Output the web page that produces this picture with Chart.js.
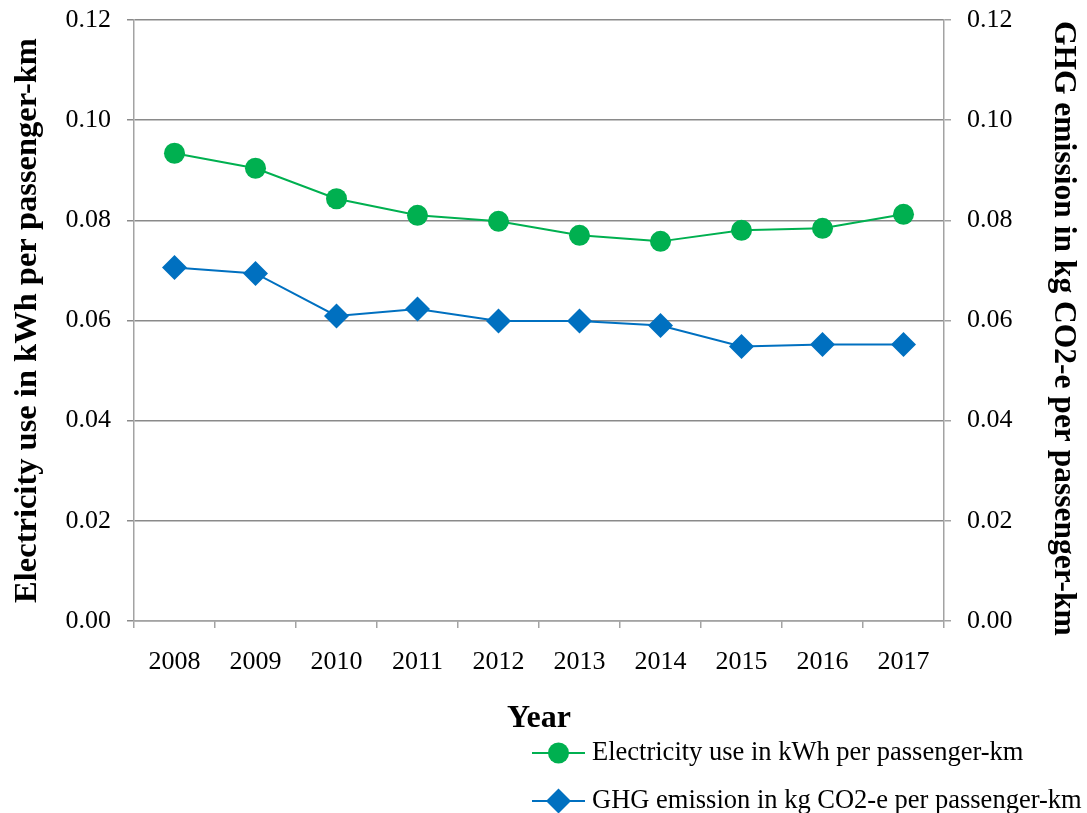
<!DOCTYPE html>
<html>
<head>
<meta charset="utf-8">
<script src="https://cdn.jsdelivr.net/npm/chart.js@4/dist/chart.umd.min.js"></script>
<style>
  html, body { margin: 0; padding: 0; background: #ffffff; }
  #wrap { width: 1087px; height: 813px; position: relative; }
</style>
</head>
<body>
<div id="wrap"><canvas id="c" width="1087" height="813"></canvas></div>
<script>
// Years on the category axis
const years = ['2008', '2009', '2010', '2011', '2012', '2013', '2014', '2015', '2016', '2017'];

// Electricity use in kWh per passenger-km (left axis)
const electricity = [0.0934, 0.0904, 0.0843, 0.0810, 0.0798, 0.0770, 0.0758, 0.0780, 0.0784, 0.0812];

// GHG emission in kg CO2-e per passenger-km (right axis)
const ghg = [0.0706, 0.0694, 0.0609, 0.0623, 0.0599, 0.0599, 0.0590, 0.0548, 0.0552, 0.0552];

// Value axis range shared by both sides
const axisMin = 0;
const axisMax = 0.12;
const axisStep = 0.02;

const labelElec = 'Electricity use in kWh per passenger-km';
const labelGhg = 'GHG emission in kg CO2-e per passenger-km';
const titleLeft = 'Electricity use in kWh per passenger-km';
const titleRight = '  GHG emission in kg CO2-e per passenger-km';
const titleX = 'Year';

const SERIF = '"Liberation Serif", "Times New Roman", serif';
const GREEN = '#00B050';
const BLUE = '#0070C0';
const GRID = '#8a8a8a';
const AXIS = '#a3a3a3';

// Legend stacked in a column under the plot, right side
const stackedLegend = {
  id: 'stackedLegend',
  afterDraw(chart) {
    const ctx = chart.ctx;
    const area = chart.chartArea;
    const lineStart = area.left + 398;
    const lineEnd = lineStart + 53;
    const textX = lineEnd + 7;
    const rows = [area.bottom + 132, area.bottom + 180];
    ctx.save();
    chart.data.datasets.forEach((ds, i) => {
      const y = rows[i];
      ctx.strokeStyle = ds.borderColor;
      ctx.lineWidth = ds.borderWidth;
      ctx.beginPath();
      ctx.moveTo(lineStart, y);
      ctx.lineTo(lineEnd, y);
      ctx.stroke();
      ctx.fillStyle = ds.pointBackgroundColor;
      ctx.strokeStyle = ds.pointBorderColor;
      Chart.helpers.drawPoint(ctx, {
        pointStyle: ds.pointStyle,
        radius: ds.pointRadius,
        borderWidth: ds.pointBorderWidth,
        rotation: 0
      }, (lineStart + lineEnd) / 2, y);
      ctx.fillStyle = '#000000';
      ctx.font = '26.5px ' + SERIF;
      ctx.textAlign = 'left';
      ctx.textBaseline = 'middle';
      ctx.fillText(ds.label, textX, y);
    });
    ctx.restore();
  }
};

const tickFmt = v => Number(v).toFixed(2);

// Keep the value axes from reserving extra room above/below the plot
function fitValueAxis(width) {
  return function (scale) {
    scale.width = width;
    scale.paddingTop = 0;
    scale.paddingBottom = 0;
  };
}

new Chart(document.getElementById('c'), {
  type: 'line',
  data: {
    labels: years,
    datasets: [
      {
        label: labelElec,
        data: electricity,
        yAxisID: 'y',
        borderColor: GREEN,
        backgroundColor: GREEN,
        borderWidth: 2,
        pointStyle: 'circle',
        pointRadius: 10.5,
        pointBackgroundColor: GREEN,
        pointBorderColor: GREEN,
        pointBorderWidth: 0,
        tension: 0
      },
      {
        label: labelGhg,
        data: ghg,
        yAxisID: 'y1',
        borderColor: BLUE,
        backgroundColor: BLUE,
        borderWidth: 2,
        pointStyle: 'rectRot',
        pointRadius: 12.5,
        pointBackgroundColor: BLUE,
        pointBorderColor: BLUE,
        pointBorderWidth: 0,
        tension: 0
      }
    ]
  },
  options: {
    responsive: false,
    animation: false,
    devicePixelRatio: 1,
    layout: { padding: { top: 20, left: 0, right: 0, bottom: 0 } },
    plugins: {
      legend: { display: false },
      tooltip: { enabled: false }
    },
    scales: {
      x: {
        type: 'category',
        offset: true,
        grid: {
          offset: true,
          drawOnChartArea: false,
          drawTicks: true,
          tickLength: 7,
          color: AXIS,
          lineWidth: 1.5
        },
        border: { display: true, color: AXIS, width: 1.5 },
        ticks: {
          color: '#000000',
          font: { family: SERIF, size: 26 },
          padding: 19,
          maxRotation: 0
        },
        title: {
          display: true,
          text: titleX,
          color: '#000000',
          font: { family: SERIF, size: 32, weight: 'bold' },
          padding: { top: 4, bottom: 75 }
        },
        afterFit(scale) { scale.height = 192; }
      },
      y: {
        position: 'left',
        min: axisMin,
        max: axisMax,
        grid: {
          drawOnChartArea: true,
          drawTicks: true,
          tickLength: 7,
          color: GRID,
          lineWidth: 1.5
        },
        border: { display: true, color: AXIS, width: 1.5 },
        ticks: {
          stepSize: axisStep,
          callback: tickFmt,
          color: '#000000',
          font: { family: SERIF, size: 26 },
          padding: 16
        },
        title: {
          display: true,
          text: titleLeft,
          color: '#000000',
          font: { family: SERIF, size: 32.5, weight: 'bold' },
          padding: { top: 8, bottom: 0 }
        },
        afterFit: fitValueAxis(134)
      },
      y1: {
        position: 'right',
        min: axisMin,
        max: axisMax,
        grid: {
          drawOnChartArea: false,
          drawTicks: true,
          tickLength: 7,
          color: AXIS,
          lineWidth: 1.5
        },
        border: { display: true, color: AXIS, width: 1.5 },
        ticks: {
          stepSize: axisStep,
          callback: tickFmt,
          color: '#000000',
          font: { family: SERIF, size: 26 },
          padding: 16
        },
        title: {
          display: true,
          text: titleRight,
          color: '#000000',
          font: { family: SERIF, size: 31.5, weight: 'bold' },
          padding: { top: 5, bottom: 0 }
        },
        afterFit: fitValueAxis(143)
      }
    }
  },
  plugins: [stackedLegend]
});
</script>
</body>
</html>
